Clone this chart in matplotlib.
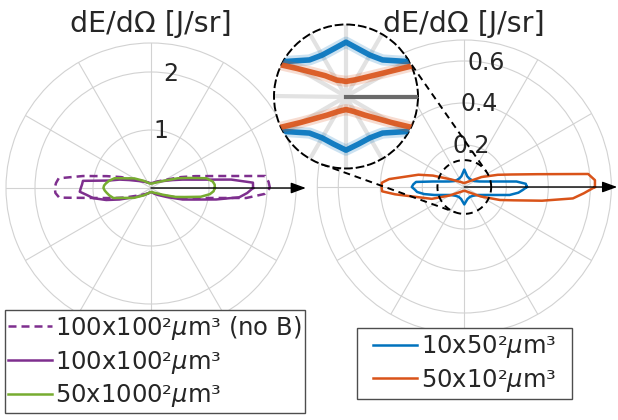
import numpy as np
import matplotlib
matplotlib.use("Agg")
import matplotlib.pyplot as plt
from matplotlib.lines import Line2D
from matplotlib.patches import Rectangle

# ---------------- data ----------------
theta_deg = [0, 3, 6, 10, 15, 20, 30, 45, 60, 75, 90,
             105, 120, 135, 150, 160, 165, 170, 174, 177, 180,
             183, 186, 190, 195, 200, 210, 225, 240, 255, 270,
             285, 300, 315, 330, 340, 345, 350, 354, 357, 360]

# left panel  (dE/dOmega, J/sr)
r_100x100_noB = [2.05, 2.03, 1.98, 1.19, 0.79, 0.55, 0.28, 0.16, 0.11, 0.09, 0.086,
                 0.09, 0.11, 0.16, 0.28, 0.55, 0.79, 1.19, 1.60, 1.64, 1.66,
                 1.65, 1.59, 0.99, 0.67, 0.48, 0.26, 0.15, 0.11, 0.086, 0.078,
                 0.086, 0.11, 0.15, 0.26, 0.48, 0.67, 0.99, 1.65, 1.96, 2.05]
r_100x100 = [1.76, 1.76, 1.39, 0.83, 0.56, 0.40, 0.24, 0.15, 0.11, 0.09, 0.083,
             0.09, 0.11, 0.15, 0.24, 0.40, 0.56, 0.74, 1.18, 1.19, 1.21,
             1.23, 1.12, 1.01, 0.80, 0.58, 0.31, 0.17, 0.11, 0.081, 0.072,
             0.081, 0.11, 0.17, 0.31, 0.58, 0.77, 1.14, 1.53, 1.66, 1.76]
r_50x1000 = [1.10, 1.10, 1.07, 0.97, 0.67, 0.49, 0.245, 0.136, 0.098, 0.082, 0.074,
             0.081, 0.107, 0.174, 0.33, 0.49, 0.65, 0.73, 0.78, 0.81, 0.82,
             0.80, 0.77, 0.73, 0.67, 0.50, 0.34, 0.18, 0.109, 0.081, 0.069,
             0.076, 0.091, 0.126, 0.23, 0.45, 0.60, 0.87, 1.02, 1.08, 1.10]

# right panel
r_10x50 = [0.298, 0.293, 0.250, 0.151, 0.101, 0.077, 0.056, 0.048, 0.047, 0.053, 0.083,
           0.053, 0.047, 0.048, 0.056, 0.077, 0.101, 0.151, 0.231, 0.243, 0.250,
           0.236, 0.226, 0.194, 0.147, 0.111, 0.076, 0.059, 0.054, 0.059, 0.083,
           0.059, 0.054, 0.059, 0.076, 0.111, 0.147, 0.219, 0.259, 0.278, 0.298]
r_50x10 = [0.622, 0.623, 0.593, 0.351, 0.230, 0.170, 0.095, 0.041, 0.027, 0.022, 0.019,
           0.021, 0.026, 0.037, 0.072, 0.159, 0.226, 0.284, 0.360, 0.393, 0.394,
           0.392, 0.332, 0.256, 0.200, 0.165, 0.081, 0.037, 0.025, 0.020, 0.018,
           0.020, 0.025, 0.038, 0.090, 0.181, 0.245, 0.376, 0.520, 0.570, 0.622]

# magnified view (zoom around the origin of the right panel)
zoom_theta_deg = [0, 10, 20, 30, 45, 60, 75, 90, 105, 120, 135, 150, 160, 170, 180,
                  190, 200, 210, 225, 240, 255, 270, 285, 300, 315, 330, 340, 350, 360]
zoom_r_10x50 = [0.30, 0.308, 0.156, 0.107, 0.079, 0.073, 0.075, 0.083, 0.075, 0.073,
                0.079, 0.107, 0.156, 0.308, 0.25, 0.308, 0.156, 0.107, 0.079, 0.073,
                0.075, 0.082, 0.075, 0.073, 0.079, 0.107, 0.156, 0.308, 0.30]
zoom_r_50x10 = [0.62, 0.35, 0.20, 0.076, 0.041, 0.0295, 0.025, 0.023, 0.025, 0.029,
                0.045, 0.085, 0.20, 0.30, 0.39, 0.35, 0.20, 0.079, 0.040, 0.027,
                0.022, 0.020, 0.022, 0.027, 0.040, 0.079, 0.20, 0.35, 0.62]

labels_left = ["100x100²$\\mu$m³ (no B)", "100x100²$\\mu$m³", "50x1000²$\\mu$m³"]
labels_right = ["10x50²$\\mu$m³", "50x10²$\\mu$m³"]
title_text = "dE/dΩ [J/sr]"
rticks_left, rmax_left = [1, 2], 2.5
rticks_right, rmax_right = [0.2, 0.4, 0.6], 0.7
zoom_circle_r = 0.128      # radius of the zoomed region (right panel units)
zoom_rmax = 0.11           # radius shown in the magnifier

# ---------------- style ----------------
PURPLE = "#7E2F8E"
GREEN = "#77AC30"
BLUE = "#0072BD"
ORANGE = "#D95319"
GRID = "#d2d2d2"
TXT = "#262626"
LW = 1.8

W, H = 618, 420
fig = plt.figure(figsize=(W / 100, H / 100), dpi=100)


def px_axes(cx, cy, rad):
    return [(cx - rad) / W, 1 - (cy + rad) / H, 2 * rad / W, 2 * rad / H]


def style_polar(ax, rmax, rticks, grid_lw=0.8, gcol=GRID):
    ax.set_ylim(0, rmax)
    ax.set_yticks(rticks)
    ax.set_yticklabels([])
    ax.set_xticks(np.deg2rad(np.arange(0, 360, 30)))
    ax.set_xticklabels([])
    ax.tick_params(length=0, pad=0)
    ax.grid(True, color=gcol, lw=grid_lw)
    ax.spines["polar"].set_color(gcol)
    ax.spines["polar"].set_linewidth(grid_lw)


L_C = (151, 188, 145)
R_C = (464.3, 187, 147)
Z_C = (346, 96.5, 72)

axL = fig.add_axes(px_axes(*L_C), projection="polar")
axR = fig.add_axes(px_axes(*R_C), projection="polar")
style_polar(axL, rmax_left, rticks_left)
style_polar(axR, rmax_right, rticks_right)

th = np.deg2rad(theta_deg)
lA, = axL.plot(th, r_100x100_noB, color=PURPLE, lw=LW, dashes=(3.2, 2.0))
lB, = axL.plot(th, r_100x100, color=PURPLE, lw=LW)
lC, = axL.plot(th, r_50x1000, color=GREEN, lw=LW)
lD, = axR.plot(th, r_10x50, color=BLUE, lw=LW)
lE, = axR.plot(th, r_50x10, color=ORANGE, lw=LW)

# ring labels
for ax, ticks, fmt in [(axL, rticks_left, "{:g}"), (axR, rticks_right, "{:.1f}")]:
    for t in ticks:
        ax.text(np.deg2rad(80), t, fmt.format(t), ha="center", va="center",
                fontsize=17, color=TXT, zorder=6)

# arrows along theta = 0
for ax, reach in [(axL, 2.67), (axR, 0.728)]:
    ax.annotate("", xy=(0, reach), xytext=(0, 0),
                arrowprops=dict(arrowstyle="-|>,head_length=0.6,head_width=0.22",
                                color="black", lw=1.0, mutation_scale=15,
                                shrinkA=0, shrinkB=0),
                annotation_clip=False, zorder=5)

# titles
fig.text(151 / W, 1 - 32 / H, title_text, ha="center", va="baseline",
         fontsize=20.5, color=TXT)
fig.text(464 / W, 1 - 32 / H, title_text, ha="center", va="baseline",
         fontsize=20.5, color=TXT)

# zoom-region circle on right panel
circ_t = np.linspace(0, 2 * np.pi, 300)
axR.plot(circ_t, np.full_like(circ_t, zoom_circle_r), color="black", lw=1.4,
         dashes=(3.5, 2.5), zorder=6)

# magnifier
axZ = fig.add_axes(px_axes(*Z_C), projection="polar")
axZ.set_zorder(5)
axZ.set_facecolor("white")
style_polar(axZ, zoom_rmax, [], grid_lw=3.0, gcol="#e2e2e2")
axZ.spines["polar"].set_color("black")
axZ.spines["polar"].set_linewidth(1.4)
axZ.spines["polar"].set_linestyle((0, (3.5, 2.5)))
axZ.plot([0, 0], [0, zoom_rmax], color="#6a6a6a", lw=3.0, zorder=3)
zt = np.deg2rad(zoom_theta_deg)
for r, c in [(zoom_r_10x50, BLUE), (zoom_r_50x10, ORANGE)]:
    axZ.plot(zt, r, color=c, lw=8, alpha=0.2, zorder=4, solid_joinstyle="round")
    axZ.plot(zt, r, color=c, lw=4, alpha=0.9, zorder=4, solid_joinstyle="round")
axZ.set_ylim(0, zoom_rmax)

# connector lines (external tangents between magnifier and zoom circle)
c1 = np.array([Z_C[0], H - Z_C[1]], float)
R1 = Z_C[2]
c2 = np.array([R_C[0], H - R_C[1]], float)
R2 = zoom_circle_r / rmax_right * R_C[2]
d = c2 - c1
Ld = np.hypot(*d)
u = d / Ld
up = np.array([-u[1], u[0]])
a = (R1 - R2) / Ld
b = np.sqrt(1 - a * a)
for s in (1, -1):
    n = a * u + s * b * up
    p1 = c1 + R1 * n
    p2 = c2 + R2 * n
    fig.add_artist(Line2D([p1[0] / W, p2[0] / W], [p1[1] / H, p2[1] / H],
                          transform=fig.transFigure, color="black", lw=1.4,
                          dashes=(3.5, 2.5), zorder=4))

# legends with their own frames
def legend_box(x0, y0, x1, y1, handles, labels):
    fig.add_artist(Rectangle((x0 / W, 1 - y1 / H), (x1 - x0) / W, (y1 - y0) / H,
                             transform=fig.transFigure, fc="white", ec="#4d4d4d",
                             lw=1.0, zorder=8))
    leg = fig.legend(handles, labels, loc="center",
                     bbox_to_anchor=((x0 + x1) / 2 / W, 1 - (y0 + y1) / 2 / H),
                     frameon=False, fontsize=17.5, handlelength=1.8,
                     handletextpad=0.15, labelspacing=0.28, borderpad=0,
                     borderaxespad=0)
    leg.set_zorder(9)
    for t in leg.get_texts():
        t.set_color(TXT)


legend_box(5, 310, 305, 413, [lA, lB, lC], labels_left)
legend_box(357, 328, 572, 399, [lD, lE], labels_right)

fig.savefig("out.png", dpi=100)
